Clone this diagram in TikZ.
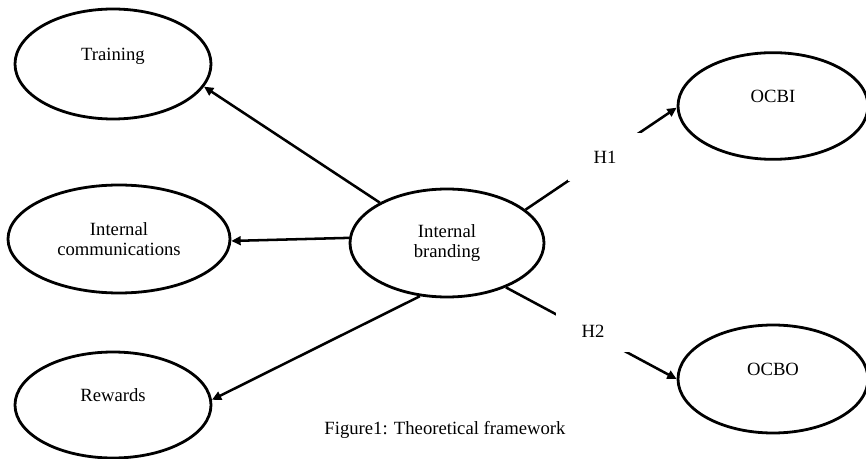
\documentclass[tikz,border=0pt]{standalone}
\usepackage{fontspec}
\setmainfont{Liberation Serif}
\usetikzlibrary{shapes.geometric,arrows.meta}
\begin{document}
\begin{tikzpicture}[x=0.75pt,y=-0.75pt,
  every node/.style={font=\fontsize{14}{15}\selectfont},
  construct/.style={ellipse,draw,line width=2.1pt,inner sep=0pt,align=center},
  arr/.style={line width=1.9pt,-{Triangle[length=7pt,width=6.5pt]}},
  gapbox/.style={fill=white,inner sep=0pt,minimum width=55.5pt,minimum height=36pt}]
\useasboundingbox (0,0) rectangle (866,459);
\node[construct,minimum width=147pt,minimum height=82.5pt] (tr) at (113,64) {Training\\\mbox{}};
\node[construct,minimum width=166.5pt,minimum height=81pt] (ic) at (119,239) {Internal\\communications};
\node[construct,minimum width=147pt,minimum height=79.5pt] (rw) at (113,405) {Rewards\\\mbox{}};
\node[construct,minimum width=145.5pt,minimum height=81pt] (ib) at (447,243) {Internal\\branding};
\node[construct,minimum width=142.5pt,minimum height=80pt] (ocbi) at (773,106) {OCBI\\\mbox{}};
\node[construct,minimum width=142.5pt,minimum height=81pt] (ocbo) at (773,379) {OCBO\\\mbox{}};
\draw[arr] (ib.149) -- (tr.-14);
\draw[arr] (ib.177) -- (ic.-1);
\draw[arr] (ib.243) -- (rw.3);
\draw[arr] (ib.23) -- (ocbi.181);
\draw[arr] (ib.-37) -- (ocbo.180);
\node[gapbox] (h1) at (605,157) {H1};
\node[gapbox,minimum height=31.5pt] (h2) at (593,331) {H2};
\node (cap) at (445,430) {Figure1: Theoretical framework};
\end{tikzpicture}
\end{document}
